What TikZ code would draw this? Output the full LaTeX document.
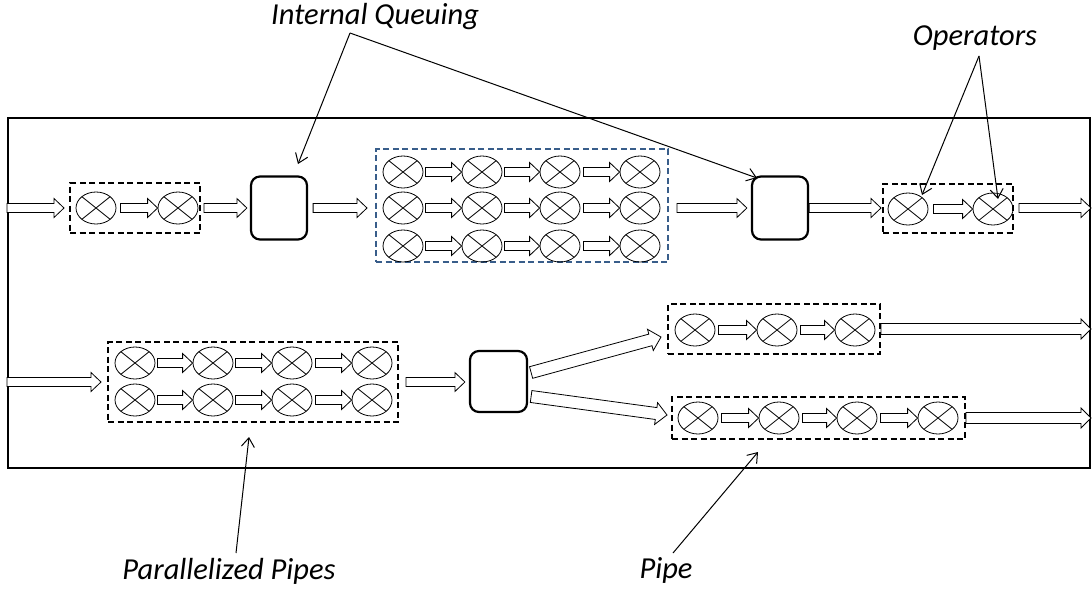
\documentclass[tikz,border=0pt]{standalone}
\usepackage{fontspec}
\setmainfont{Carlito}
\usetikzlibrary{shapes.geometric,calc,arrows.meta}
\def\bkSW{4.5pt}
\def\bkHW{9.5pt}
\def\bkHL{10pt}
\newcommand\blkarrow[2]{%
  \coordinate (bkA) at (#1);
  \coordinate (bkB) at (#2);
  \coordinate (bkH) at ($(bkB)!\bkHL!(bkA)$);
  \draw[blk] ($(bkA)!\bkSW!90:(bkB)$) -- ($(bkH)!\bkSW!90:(bkB)$) -- ($(bkH)!\bkHW!90:(bkB)$)
    -- (bkB) -- ($(bkH)!\bkHW!-90:(bkB)$) -- ($(bkH)!\bkSW!-90:(bkB)$) -- ($(bkA)!\bkSW!-90:(bkB)$) -- cycle;
}
\begin{document}
\begin{tikzpicture}[x=1pt,y=-1pt,
  op/.style={ellipse, draw, line width=0.8pt, minimum width=40pt, minimum height=32pt, inner sep=0pt,
    path picture={\draw[line width=0.8pt] (path picture bounding box.south west) -- (path picture bounding box.north east)
      (path picture bounding box.north west) -- (path picture bounding box.south east);}},
  que/.style={draw, line width=2.2pt, rounded corners=9pt, inner sep=0pt},
  dbox/.style={draw, line width=2pt, dash pattern=on 6pt off 3.5pt, inner sep=0pt},
  bluebox/.style={dbox, draw=dashblue},
  blk/.style={draw, fill=white, line width=0.8pt, line join=miter},
  lbl/.style={font=\fontsize{30.5}{34}\selectfont\itshape, inner sep=0pt, anchor=base},
  ptr/.style={line width=1pt, -{Straight Barb[length=9pt,width=13pt]}},
]
\definecolor{dashblue}{RGB}{56,93,138}
\useasboundingbox (0,0) rectangle (1092,590);

% frame
\node[draw, line width=2pt, minimum width=1082pt, minimum height=350pt, inner sep=0pt] (frame) at (549,293) {};

% ---------- top row ----------
\node[dbox, minimum width=130pt, minimum height=50pt] (b1) at (135,208) {};
\node[op] (a1) at (96,208) {};
\node[op] (a2) at (178,208) {};
\node[que, minimum width=56pt, minimum height=63pt] (q1) at (279,208) {};

\node[bluebox, minimum width=292pt, minimum height=113pt] (b2) at (522,205.5) {};
\foreach \r/\y in {1/172,2/208,3/246}{
  \foreach \c/\x in {1/403,2/482,3/560,4/640}{
    \node[op] (m\r\c) at (\x,\y) {};
  }
}
\node[que, minimum width=56pt, minimum height=63pt] (q2) at (780,208) {};
\node[dbox, minimum width=130pt, minimum height=49pt] (b3) at (948,208) {};
\node[op] (c1) at (908,209) {};
\node[op] (c2) at (993,209) {};

\blkarrow{frame.west |- b1.west}{$(b1.west)+(-5,0)$}
\blkarrow{$(a1.east)+(4,0)$}{a2.west}
\blkarrow{$(b1.east)+(3,0)$}{$(q1.west)+(-3,0)$}
\blkarrow{$(q1.east)+(5,0)$}{$(q1.east -| b2.west)+(-8,0)$}
\foreach \r in {1,2,3}{
  \blkarrow{$(m\r1.east)+(2,0)$}{m\r2.west}
  \blkarrow{$(m\r2.east)+(2,0)$}{m\r3.west}
  \blkarrow{$(m\r3.east)+(3,0)$}{m\r4.west}
}
\blkarrow{$(q1.east -| b2.east)+(8,0)$}{$(q2.west)+(-4,0)$}
\blkarrow{q2.east}{$(b3.west)+(-1,0)$}
\blkarrow{$(c1.east)+(5,0)$}{c2.west}
\blkarrow{$(b3.east)+(5,0)$}{frame.east |- b3.east}

% ---------- bottom row ----------
\node[dbox, minimum width=290pt, minimum height=80pt] (b4) at (253,382) {};
\foreach \r/\y in {1/363,2/400}{
  \foreach \c/\x in {1/135,2/213,3/292,4/372}{
    \node[op] (p\r\c) at (\x,\y) {};
  }
  \blkarrow{$(p\r1.east)+(2,0)$}{p\r2.west}
  \blkarrow{$(p\r2.east)+(2,0)$}{p\r3.west}
  \blkarrow{$(p\r3.east)+(3,0)$}{p\r4.west}
}
\node[que, minimum width=57pt, minimum height=61pt] (q3) at (498.5,381.5) {};

\node[dbox, minimum width=212pt, minimum height=50pt] (b5) at (774,329) {};
\node[op] (d1) at (695,330) {};
\node[op] (d2) at (777,330) {};
\node[op] (d3) at (855,330) {};

\node[dbox, minimum width=293pt, minimum height=42pt] (b6) at (818.5,418) {};
\node[op] (e1) at (698,418) {};
\node[op] (e2) at (779,418) {};
\node[op] (e3) at (857,418) {};
\node[op] (e4) at (938,418) {};

\blkarrow{frame.west |- b4.west}{$(b4.west)+(-6,0)$}
\blkarrow{$(b4.east)+(7,0)$}{$(b4.east -| q3.west)+(-4,0)$}
\def\bkSW{6pt}\def\bkHW{11pt}\def\bkHL{11pt}
\blkarrow{$(q3.east)+(3,-9)$}{$(b5.west)+(-6,8)$}
\blkarrow{$(q3.east)+(3,15)$}{$(b6.west)+(-4,-3)$}
\def\bkSW{5.5pt}\def\bkHW{10pt}\def\bkHL{10pt}
\blkarrow{b5.east}{frame.east |- b5.east}
\blkarrow{b6.east}{frame.east |- b6.east}
\def\bkSW{4.5pt}\def\bkHW{9.5pt}\def\bkHL{10pt}
\blkarrow{$(d1.east)+(3,0)$}{d2.west}
\blkarrow{$(d2.east)+(3,0)$}{d3.west}
\blkarrow{$(e1.east)+(3,0)$}{e2.west}
\blkarrow{$(e2.east)+(3,0)$}{e3.west}
\blkarrow{$(e3.east)+(3,0)$}{e4.west}

% ---------- labels and pointers ----------
\node[lbl, anchor=base west] (iq) at (271,24) {Internal Queuing};
\coordinate (iqfork) at (350,33);
\coordinate (iqt1) at (298,164);
\coordinate (iqt2) at (757,178);
\draw[ptr] (iqfork) -- (iqt1);
\draw[ptr] (iqfork) -- (iqt2);

\node[lbl] (ops) at (975,45) {Operators};
\coordinate (opfork) at (979,56);
\coordinate (opt1) at (922,195);
\coordinate (opt2) at (998,199);
\draw[ptr] (opfork) -- (opt1);
\draw[ptr] (opfork) -- (opt2);

\node[lbl] (pp) at (229,579) {Parallelized Pipes};
\coordinate (pps) at (236,553);
\coordinate (ppt) at (249,437);
\draw[ptr] (pps) -- (ppt);

\node[lbl] (pipe) at (666,578) {Pipe};
\coordinate (pis) at (673,553);
\coordinate (pit) at (758,452);
\draw[ptr] (pis) -- (pit);
\end{tikzpicture}
\end{document}
